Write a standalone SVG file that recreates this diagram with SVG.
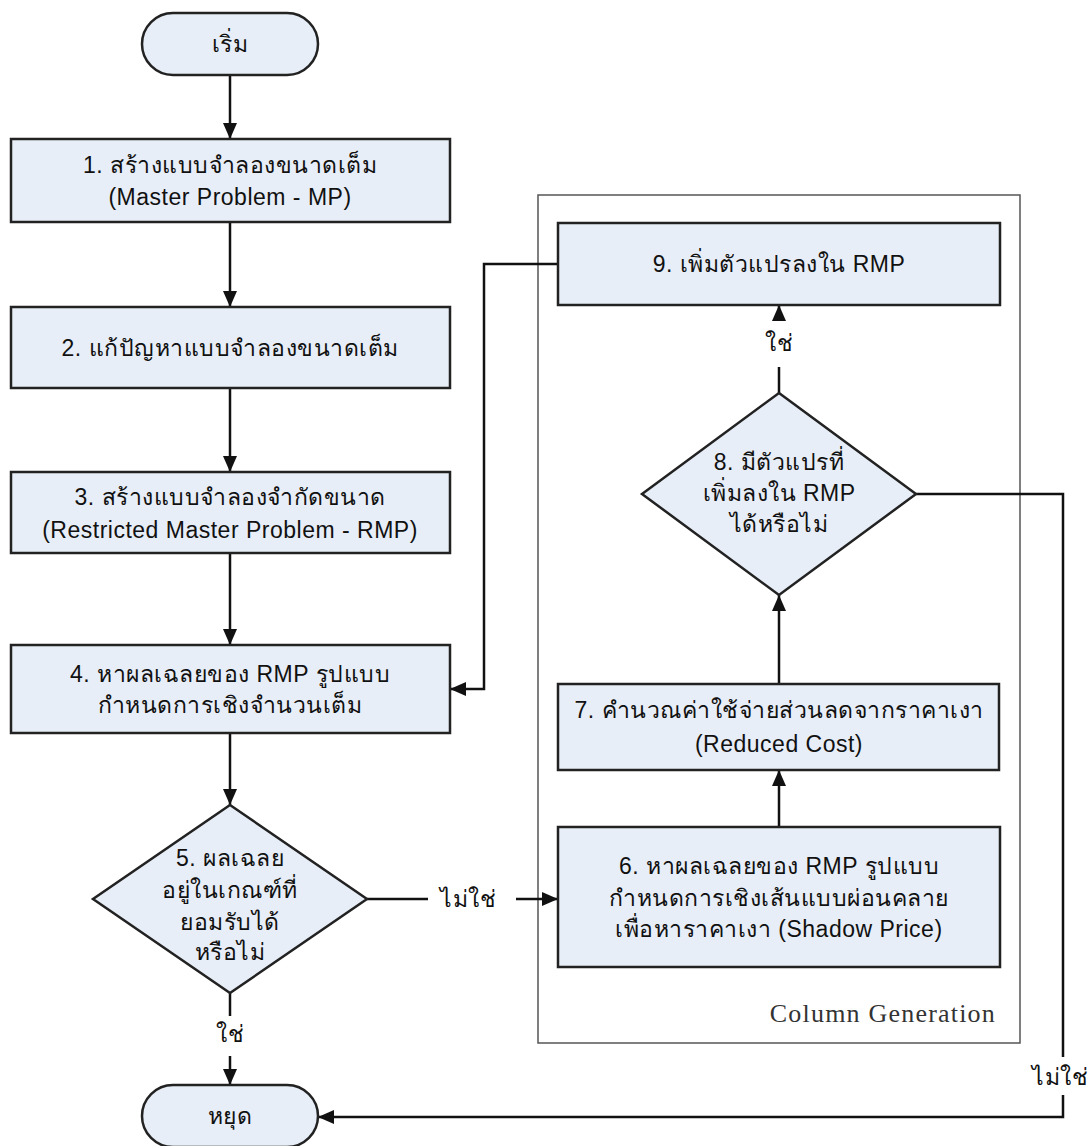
<svg xmlns="http://www.w3.org/2000/svg" width="1091" height="1146" viewBox="0 0 1091 1146">
  <defs>
    <marker id="arrow" viewBox="0 0 16 14" refX="16" refY="7" markerWidth="16" markerHeight="14" markerUnits="userSpaceOnUse" orient="auto">
      <path d="M0,0 L16,7 L0,14 z" fill="#111"/>
    </marker>
    <style>
      .shape { fill: #E8EEF7; stroke: #222; stroke-width: 2.5; }
      .frame { fill: none; stroke: #555; stroke-width: 1.5; }
      .edge { fill: none; stroke: #111; stroke-width: 2.5; }
      .edge-arrow { fill: none; stroke: #111; stroke-width: 2.5; marker-end: url(#arrow); }
      .label { font-family: "Liberation Sans", "Noto Sans", "DejaVu Sans", sans-serif; font-size: 23px; letter-spacing: 0.5px; fill: #111; text-anchor: middle; dominant-baseline: central; }
      .caption { font-family: "Liberation Serif", "DejaVu Serif", serif; font-size: 26px; letter-spacing: 1.2px; fill: #333; text-anchor: end; }
    </style>
  </defs>

  <rect width="1091" height="1146" fill="#fff"/>

  <!-- Column Generation frame -->
  <g id="column-generation">
    <rect class="frame" x="538" y="195" width="482" height="848"/>
    <text class="caption" x="996" y="1022">Column Generation</text>
  </g>

  <!-- Connectors -->
  <g id="connectors">
    <path class="edge-arrow" d="M230,75 V139"/>
    <path class="edge-arrow" d="M230,222 V307"/>
    <path class="edge-arrow" d="M230,388 V472"/>
    <path class="edge-arrow" d="M230,553 V645"/>
    <path class="edge-arrow" d="M230,733 V805"/>
    <!-- 5 yes -> stop -->
    <path class="edge" d="M230,993 V1016"/>
    <text class="label" x="230" y="1034">ใช่</text>
    <path class="edge-arrow" d="M230,1056 V1085"/>
    <!-- 5 no -> 6 -->
    <path class="edge" d="M367,899 H428"/>
    <text class="label" x="468" y="899">ไม่ใช่</text>
    <path class="edge-arrow" d="M516,899 H558"/>
    <!-- 6 -> 7 -> 8 -->
    <path class="edge-arrow" d="M779,827 V770"/>
    <path class="edge-arrow" d="M779,684 V595"/>
    <!-- 8 yes -> 9 -->
    <path class="edge" d="M779,393 V367"/>
    <text class="label" x="779" y="343">ใช่</text>
    <path class="edge-arrow" d="M779,321 V305"/>
    <!-- 9 -> 4 -->
    <path class="edge-arrow" d="M558,264 H484 V689 H450"/>
    <!-- 8 no -> stop -->
    <path class="edge" d="M916,494 H1063 V1057"/>
    <text class="label" x="1060" y="1077">ไม่ใช่</text>
    <path class="edge-arrow" d="M1063,1095 V1117 H318"/>
  </g>

  <!-- Nodes -->
  <g id="start">
    <rect class="shape" x="142" y="13" width="176" height="62" rx="31" ry="31"/>
    <text class="label" x="230" y="44">เริ่ม</text>
  </g>

  <g id="step1">
    <rect class="shape" x="11" y="139" width="439" height="83"/>
    <text class="label" x="230" y="165">1. สร้างแบบจำลองขนาดเต็ม</text>
    <text class="label" x="230" y="197">(Master Problem - MP)</text>
  </g>

  <g id="step2">
    <rect class="shape" x="11" y="307" width="439" height="81"/>
    <text class="label" x="230" y="348">2. แก้ปัญหาแบบจำลองขนาดเต็ม</text>
  </g>

  <g id="step3">
    <rect class="shape" x="11" y="472" width="439" height="81"/>
    <text class="label" x="230" y="497">3. สร้างแบบจำลองจำกัดขนาด</text>
    <text class="label" x="230" y="530">(Restricted Master Problem - RMP)</text>
  </g>

  <g id="step4">
    <rect class="shape" x="11" y="645" width="439" height="88"/>
    <text class="label" x="230" y="674">4. หาผลเฉลยของ RMP รูปแบบ</text>
    <text class="label" x="230" y="705">กำหนดการเชิงจำนวนเต็ม</text>
  </g>

  <g id="step5">
    <polygon class="shape" points="230,805 367,899 230,993 93,899"/>
    <text class="label" x="230" y="858">5. ผลเฉลย</text>
    <text class="label" x="230" y="890">อยู่ในเกณฑ์ที่</text>
    <text class="label" x="230" y="922">ยอมรับได้</text>
    <text class="label" x="230" y="952">หรือไม่</text>
  </g>

  <g id="step6">
    <rect class="shape" x="558" y="827" width="442" height="140"/>
    <text class="label" x="779" y="866">6. หาผลเฉลยของ RMP รูปแบบ</text>
    <text class="label" x="779" y="898">กำหนดการเชิงเส้นแบบผ่อนคลาย</text>
    <text class="label" x="779" y="929">เพื่อหาราคาเงา (Shadow Price)</text>
  </g>

  <g id="step7">
    <rect class="shape" x="558" y="684" width="441" height="86"/>
    <text class="label" x="779" y="710">7. คำนวณค่าใช้จ่ายส่วนลดจากราคาเงา</text>
    <text class="label" x="779" y="744">(Reduced Cost)</text>
  </g>

  <g id="step8">
    <polygon class="shape" points="779,393 916,494 779,595 642,494"/>
    <text class="label" x="779" y="462">8. มีตัวแปรที่</text>
    <text class="label" x="779" y="493">เพิ่มลงใน RMP</text>
    <text class="label" x="779" y="524">ได้หรือไม่</text>
  </g>

  <g id="step9">
    <rect class="shape" x="558" y="223" width="442" height="82"/>
    <text class="label" x="779" y="264">9. เพิ่มตัวแปรลงใน RMP</text>
  </g>

  <g id="stop">
    <rect class="shape" x="142" y="1085" width="176" height="62" rx="31" ry="31"/>
    <text class="label" x="230" y="1116">หยุด</text>
  </g>
</svg>
